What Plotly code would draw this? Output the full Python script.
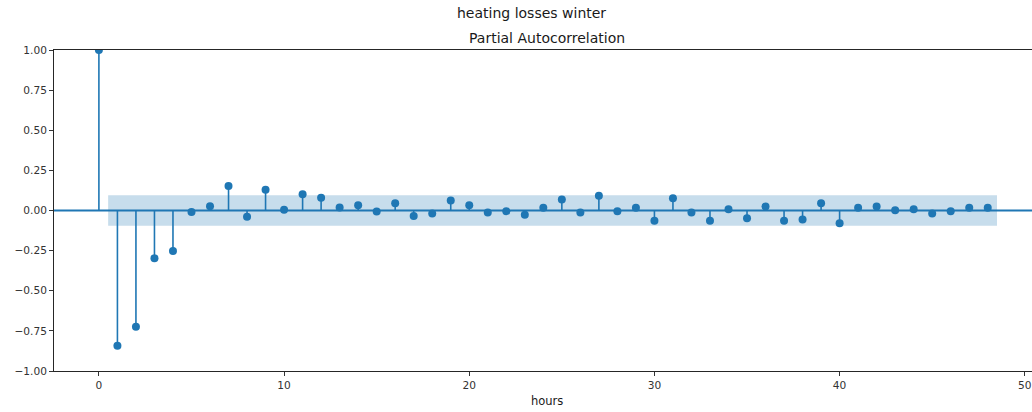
import plotly.graph_objects as go

# Partial autocorrelation of hourly heating losses (winter), lags 0..48
lags = list(range(49))
pacf_values = [
    1.000, -0.842, -0.724, -0.298, -0.252, -0.009, 0.026, 0.153, -0.039, 0.130,
    0.005, 0.101, 0.080, 0.018, 0.033, -0.006, 0.045, -0.035, -0.019, 0.062,
    0.033, -0.012, -0.004, -0.027, 0.017, 0.069, -0.012, 0.092, -0.004, 0.017,
    -0.064, 0.077, -0.012, -0.064, 0.008, -0.048, 0.025, -0.064, -0.056, 0.045,
    -0.079, 0.017, 0.025, 0.002, 0.008, -0.019, -0.004, 0.017, 0.017,
]
conf_half_width = 0.095  # 95% band, 1.96/sqrt(n)
band_lags = [0.5, 48.5]

y_ticks = [-1.0, -0.75, -0.5, -0.25, 0.0, 0.25, 0.5, 0.75, 1.0]
x_ticks = [0, 10, 20, 30, 40, 50]

C0 = "#1f77b4"
FONT = "DejaVu Sans"

fig = go.Figure()

# confidence band
fig.add_trace(go.Scatter(
    x=[band_lags[0], band_lags[1], band_lags[1], band_lags[0], band_lags[0]],
    y=[conf_half_width, conf_half_width, -conf_half_width, -conf_half_width, conf_half_width],
    fill="toself", fillcolor="rgba(31,119,180,0.25)",
    line=dict(width=0), mode="lines", hoverinfo="skip", showlegend=False,
))

# stems
stem_x, stem_y = [], []
for lag, val in zip(lags, pacf_values):
    stem_x += [lag, lag, None]
    stem_y += [0, val, None]
fig.add_trace(go.Scatter(
    x=stem_x, y=stem_y, mode="lines",
    line=dict(color=C0, width=1.6), showlegend=False, hoverinfo="skip",
))

# markers
fig.add_trace(go.Scatter(
    x=lags, y=pacf_values, mode="markers",
    marker=dict(color=C0, size=8), showlegend=False,
))

# zero line across the whole axes
fig.add_shape(type="line", xref="paper", yref="y", x0=0, x1=1, y0=0, y1=0,
              line=dict(color=C0, width=2), layer="below")

fig.update_layout(
    width=1032, height=412,
    margin=dict(l=54, r=0, t=50, b=41),
    paper_bgcolor="white", plot_bgcolor="white",
    font=dict(family=FONT, size=10.6, color="#333333"),
    showlegend=False,
    xaxis=dict(
        range=[-2.425, 50.39], tickvals=x_ticks, ticks="outside", ticklen=4,
        tickcolor="#333333", showline=True, linecolor="#262626", linewidth=1,
        mirror=True, showgrid=False, zeroline=False,
    ),
    yaxis=dict(
        range=[-1, 1], tickvals=y_ticks, tickformat=".2f", ticks="outside",
        ticklen=4, tickcolor="#333333", showline=True, linecolor="#262626",
        linewidth=1, showgrid=False, zeroline=False,
    ),
    annotations=[
        dict(text="heating losses winter", xref="paper", yref="paper",
             x=(531 - 54) / 978, y=1 + 37 / 321, xanchor="center", yanchor="middle",
             showarrow=False, font=dict(size=14, family=FONT, color="#1a1a1a")),
        dict(text="Partial Autocorrelation", xref="paper", yref="paper",
             x=(547 - 54) / 978, y=1 + 12 / 321, xanchor="center", yanchor="middle",
             showarrow=False, font=dict(size=14, family=FONT, color="#1a1a1a")),
        dict(text="hours", xref="paper", yref="paper",
             x=(547 - 54) / 978, y=-30 / 321, xanchor="center", yanchor="middle",
             showarrow=False, font=dict(size=11.5, family=FONT, color="#1a1a1a")),
    ],
)

fig.write_html("out.html")
